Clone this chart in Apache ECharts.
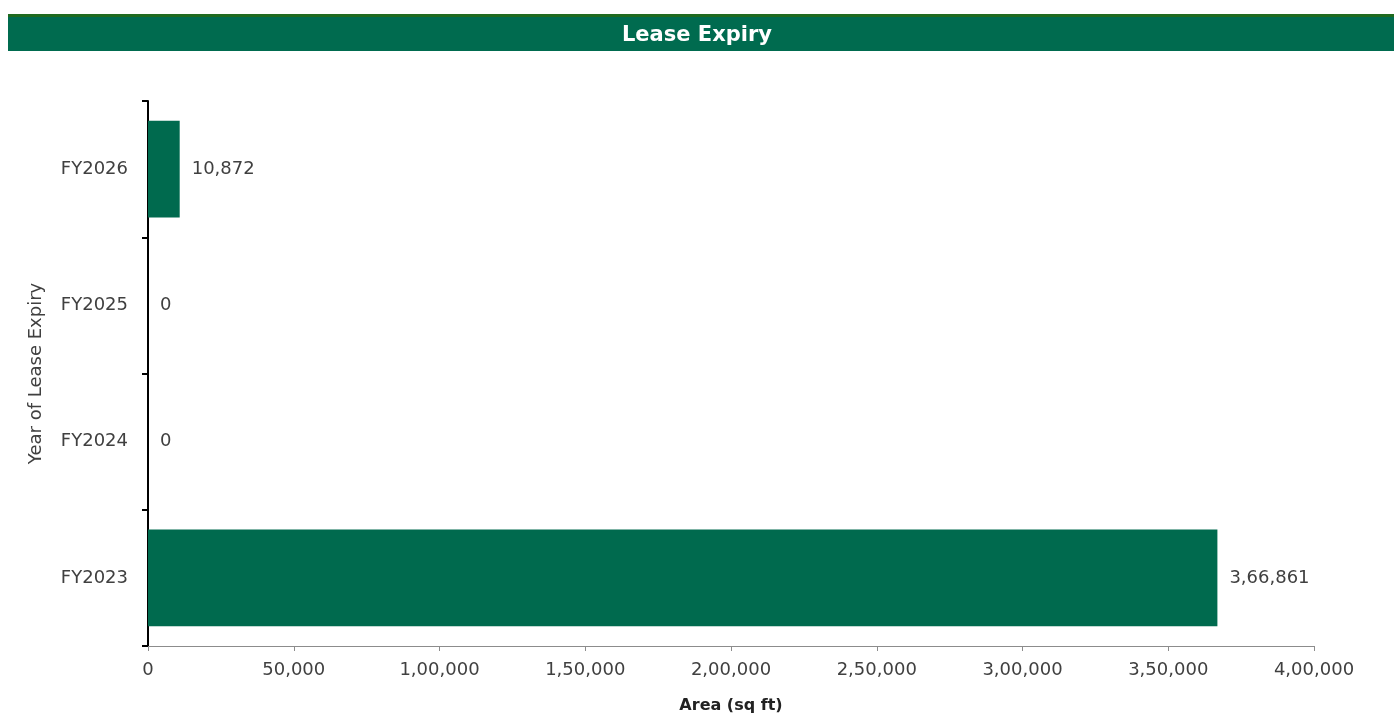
<!DOCTYPE html>
<html>
<head>
<meta charset="utf-8">
<script src="https://cdn.jsdelivr.net/npm/echarts@6/dist/echarts.min.js"></script>
<style>html,body{margin:0;padding:0;background:#fff;}#c{width:1394px;height:713px;}</style>
</head>
<body>
<div id="c"></div>
<script>
const categories = ['FY2023', 'FY2024', 'FY2025', 'FY2026'];
const areaValues = [366861, 0, 0, 10872];
const xTickValues = [0, 50000, 100000, 150000, 200000, 250000, 300000, 350000, 400000];
const titleText = 'Lease Expiry';
const xAxisName = 'Area (sq ft)';
const yAxisName = 'Year of Lease Expiry';

function indianFormat(n) {
  const s = String(Math.round(n));
  if (s.length <= 3) return s;
  const last3 = s.slice(-3);
  let rest = s.slice(0, -3);
  const parts = [];
  while (rest.length > 2) { parts.unshift(rest.slice(-2)); rest = rest.slice(0, -2); }
  if (rest.length) parts.unshift(rest);
  return parts.join(',') + ',' + last3;
}

const chart = echarts.init(document.getElementById('c'));
const font = '"DejaVu Sans", sans-serif';
chart.setOption({
  animation: false,
  backgroundColor: '#ffffff',
  graphic: [
    { type: 'rect', left: 8, top: 14, shape: { width: 1386, height: 37 }, style: { fill: '#006b4f' } },
    { type: 'rect', left: 8, top: 14, shape: { width: 1386, height: 3 }, style: { fill: '#1f6a1f' } },
    { type: 'text', left: 'center', top: 25, style: { text: titleText, fill: '#ffffff', font: 'bold 21px ' + font } }
  ],
  grid: { left: 148, right: 80, top: 101, bottom: 67, containLabel: false, outerBoundsMode: 'none' },
  xAxis: {
    type: 'value',
    min: xTickValues[0],
    max: xTickValues[xTickValues.length - 1],
    interval: xTickValues[1] - xTickValues[0],
    name: xAxisName,
    nameLocation: 'middle',
    nameGap: 52,
    nameTextStyle: { color: '#222', fontSize: 16, fontWeight: 'bold', fontFamily: font },
    axisLine: { show: true, lineStyle: { color: '#8c8c8c', width: 1 } },
    axisTick: { show: true, length: 5, lineStyle: { color: '#8c8c8c' } },
    splitLine: { show: false },
    axisLabel: { color: '#404040', fontSize: 18, fontFamily: font, margin: 15, formatter: v => indianFormat(v) }
  },
  yAxis: {
    type: 'category',
    data: categories,
    name: yAxisName,
    nameLocation: 'middle',
    nameGap: 103,
    nameRotate: 90,
    nameTextStyle: { color: '#404040', fontSize: 18, fontFamily: font },
    axisLine: { show: true, lineStyle: { color: '#000', width: 2 } },
    axisTick: { show: true, length: 6, lineStyle: { color: '#000', width: 2 } },
    axisLabel: { color: '#404040', fontSize: 18, fontFamily: font, margin: 20 }
  },
  series: [{
    type: 'bar',
    data: areaValues,
    barCategoryGap: '29%',
    itemStyle: { color: '#006a4e' },
    label: { show: true, position: 'right', distance: 12, color: '#404040', fontSize: 18, fontFamily: font, formatter: p => indianFormat(p.value) }
  }]
});
</script>
</body>
</html>
